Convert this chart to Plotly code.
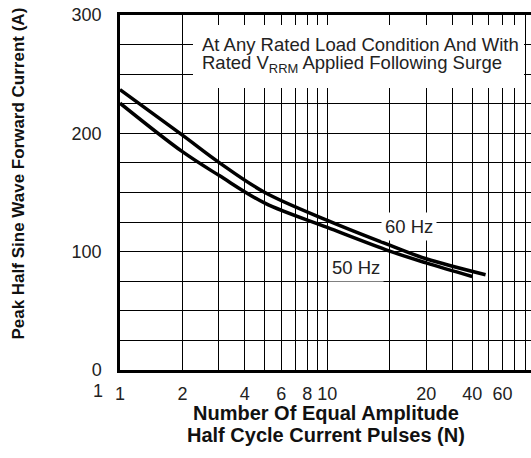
import plotly.graph_objects as go

# ---- data ----
n_60hz = [1, 2, 3, 5, 10, 20, 30, 58]
i_60hz = [237, 198.5, 175.5, 150, 126.5, 105.5, 94, 80.5]
n_50hz = [1, 2, 3, 5, 10, 20, 30, 50]
i_50hz = [225.5, 184.5, 164.5, 141, 120.5, 100.5, 90.5, 79]

x_tickvals = [1, 2, 4, 6, 8, 10, 30, 50, 70]
x_ticktext = ["1", "2", "4", "6", "8", "10", "20", "40", "60"]
x_minor = [3, 5, 7, 9, 20, 40, 60, 80, 90]
y_tickvals = [0, 100, 200, 300]

FONT = "Liberation Sans, Arial, Helvetica, sans-serif"
TXT = "#222"

fig = go.Figure()
for n, i in [(n_60hz, i_60hz), (n_50hz, i_50hz)]:
    fig.add_trace(go.Scatter(x=n, y=i, mode="lines",
                             line=dict(color="black", width=3.5, shape="spline", smoothing=1.0),
                             showlegend=False, hoverinfo="skip"))

fig.update_layout(
    width=531, height=458,
    margin=dict(l=120, r=0, t=15, b=88),
    paper_bgcolor="white", plot_bgcolor="white",
    font=dict(family=FONT, size=18, color=TXT),
)
grid = dict(showgrid=True, gridcolor="#000", gridwidth=1.2)
fig.update_xaxes(type="log", range=[0, 1.9826], tickvals=x_tickvals, ticktext=x_ticktext,
                 minor=dict(tickvals=x_minor, ticks="", **grid), **grid,
                 showline=True, linecolor="black", linewidth=2.5, mirror=True,
                 ticks="outside", ticklen=6, tickcolor="rgba(0,0,0,0)",
                 tickfont=dict(size=18, color=TXT), zeroline=False)
fig.update_yaxes(range=[0, 300], tickvals=y_tickvals,
                 minor=dict(dtick=25, ticks="", **grid), **grid,
                 showline=True, linecolor="black", linewidth=2.5, mirror=False,
                 ticks="outside", ticklen=12, tickcolor="rgba(0,0,0,0)",
                 tickfont=dict(size=18, color=TXT), zeroline=False)

# white box behind the condition note
fig.add_shape(type="rect", xref="paper", yref="paper", x0=0.1776, x1=0.983, y0=0.7944, y1=0.9718,
              fillcolor="white", line=dict(width=0), layer="above")

fig.add_annotation(xref="paper", yref="paper", x=0.197, y=0.918, xanchor="left", yanchor="middle",
                   text="At Any Rated Load Condition And With", showarrow=False,
                   font=dict(size=18.5, color=TXT), borderpad=0)
fig.add_annotation(xref="paper", yref="paper", x=0.197, y=0.862, xanchor="left", yanchor="middle",
                   text="Rated V<sub>RRM</sub> Applied Following Surge", showarrow=False,
                   font=dict(size=18.5, color=TXT), borderpad=0)

fig.add_annotation(xref="paper", yref="paper", x=0.703, y=0.403, xanchor="center", yanchor="middle",
                   text="60 Hz", showarrow=False, bgcolor="white", borderpad=3,
                   font=dict(size=18.5, color=TXT))
fig.add_annotation(xref="paper", yref="paper", x=0.574, y=0.289, xanchor="center", yanchor="middle",
                   text="50 Hz", showarrow=False, bgcolor="white", borderpad=3,
                   font=dict(size=18.5, color=TXT))

# extra "1" left of the x axis origin
fig.add_annotation(xref="paper", yref="paper", x=-0.0535, y=-0.059, xanchor="center", yanchor="middle",
                   text="1", showarrow=False, font=dict(size=18, color=TXT))

# axis titles
fig.add_annotation(xref="paper", yref="paper", x=-0.248, y=0.5535, xanchor="center", yanchor="middle",
                   textangle=-90, text="<b>Peak Half Sine Wave Forward Current (A)</b>", showarrow=False,
                   font=dict(size=17, color="#111"))
fig.add_annotation(xref="paper", yref="paper", x=0.5, y=-0.1225, xanchor="center", yanchor="middle",
                   text="<b>Number Of Equal Amplitude</b>", showarrow=False,
                   font=dict(size=20, color="#111"))
fig.add_annotation(xref="paper", yref="paper", x=0.5, y=-0.1817, xanchor="center", yanchor="middle",
                   text="<b>Half Cycle Current Pulses (N)</b>", showarrow=False,
                   font=dict(size=20, color="#111"))

fig.write_html("out.html")
